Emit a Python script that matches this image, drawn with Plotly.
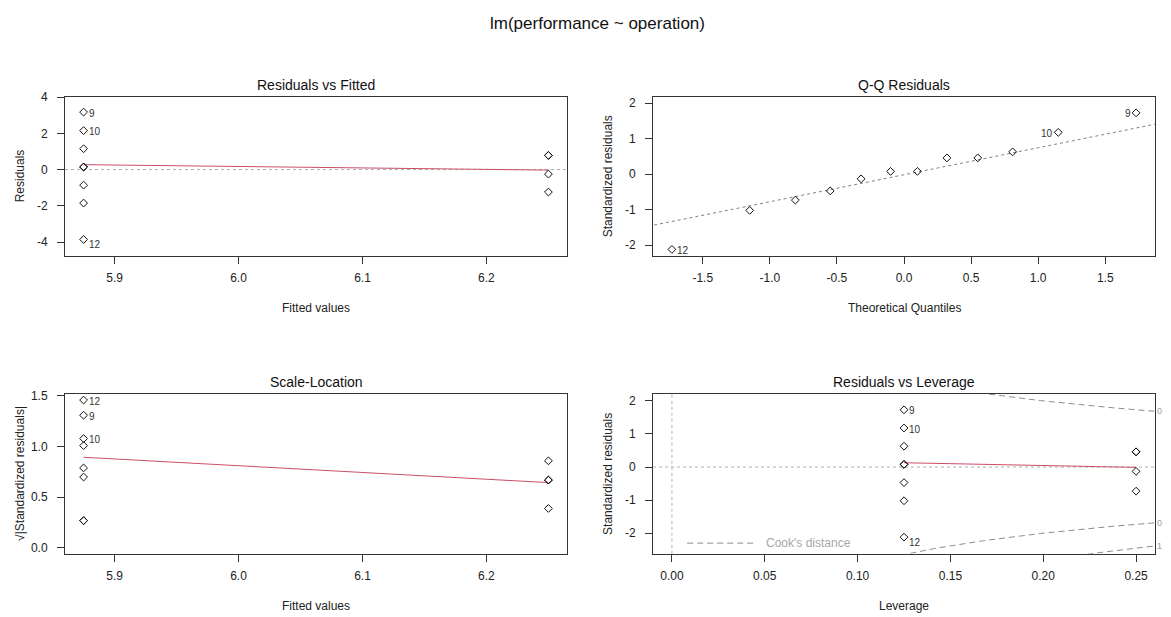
import numpy as np
import plotly.graph_objects as go

# page body has an 8px margin; work in screen pixels and convert
OFF = 8
SW, SH = 1171, 617
W, H = SW - OFF, SH - OFF

# ---------------- data ----------------
obs_id = [1, 2, 3, 4, 5, 6, 7, 8, 9, 10, 11, 12]
fitted = [6.25, 6.25, 6.25, 6.25, 5.875, 5.875, 5.875, 5.875, 5.875, 5.875, 5.875, 5.875]
residuals = [0.78, 0.78, -0.25, -1.24, 1.15, 0.14, 0.14, -0.86, 3.17, 2.15, -1.85, -3.86]
std_residuals = [0.46, 0.46, -0.13, -0.73, 0.63, 0.08, 0.08, -0.47, 1.73, 1.18, -1.02, -2.12]
sqrt_abs_std_res = [0.67, 0.67, 0.39, 0.86, 0.79, 0.27, 0.27, 0.70, 1.31, 1.08, 1.01, 1.46]
leverage = [0.25, 0.25, 0.25, 0.25, 0.125, 0.125, 0.125, 0.125, 0.125, 0.125, 0.125, 0.125]
theoretical_q = [0.32, 0.55, -0.32, -0.81, 0.81, -0.10, 0.10, -0.55, 1.73, 1.15, -1.15, -1.73]

labelled_ids = [9, 10, 12]

smooth_rvf_x = [5.875, 6.25]
smooth_rvf_y = [0.27, -0.03]
qq_line_x = [-1.95, 1.95]
qq_line_y = [-1.50, 1.47]
smooth_sl_x = [5.875, 6.25]
smooth_sl_y = [0.895, 0.645]
smooth_lev_x = [0.125, 0.25]
smooth_lev_y = [0.13, -0.01]
cook_levels = [0.5, 1.0]
n_params = 2

# ---------------- layout geometry (screen px -> paper) ----------------
def px_x(a, b):
    return [(a - OFF) / W, (b - OFF) / W]

def px_y(top, bottom):
    return [1 - (bottom - OFF) / H, 1 - (top - OFF) / H]

def sx(v):
    return (v - OFF) / W

def sy(v):
    return 1 - (v - OFF) / H

FONT = "Liberation Sans, Arial, sans-serif"
TXT = "#222222"
RED = "#CC4D67"

panels = {
    1: dict(box=(65, 567, 91, 252), xr=[5.86, 6.265], yr=[-4.76, 4.01],
            xt=[5.9, 6.0, 6.1, 6.2], xtt=["5.9", "6.0", "6.1", "6.2"],
            yt=[-4, -2, 0, 2, 4], ytt=["-4", "-2", "0", "2", "4"],
            title="Residuals vs Fitted", xl="Fitted values", yl="Residuals"),
    2: dict(box=(653, 1155, 91, 252), xr=[-1.871, 1.871], yr=[-2.30, 2.18],
            xt=[-1.5, -1.0, -0.5, 0.0, 0.5, 1.0, 1.5],
            xtt=["-1.5", "-1.0", "-0.5", "0.0", "0.5", "1.0", "1.5"],
            yt=[-2, -1, 0, 1, 2], ytt=["-2", "-1", "0", "1", "2"],
            title="Q-Q Residuals", xl="Theoretical Quantiles", yl="Standardized residuals"),
    3: dict(box=(65, 567, 392, 554), xr=[5.86, 6.265], yr=[-0.058, 1.52],
            xt=[5.9, 6.0, 6.1, 6.2], xtt=["5.9", "6.0", "6.1", "6.2"],
            yt=[0.0, 0.5, 1.0, 1.5], ytt=["0.0", "0.5", "1.0", "1.5"],
            title="Scale-Location", xl="Fitted values", yl="√|Standardized residuals|"),
    4: dict(box=(653, 1155, 392, 554), xr=[-0.0102, 0.2602], yr=[-2.624, 2.21],
            xt=[0.0, 0.05, 0.10, 0.15, 0.20, 0.25],
            xtt=["0.00", "0.05", "0.10", "0.15", "0.20", "0.25"],
            yt=[-2, -1, 0, 1, 2], ytt=["-2", "-1", "0", "1", "2"],
            title="Residuals vs Leverage", xl="Leverage", yl="Standardized residuals"),
}

fig = go.Figure()
layout = dict(width=W, height=H, margin=dict(l=0, r=0, t=0, b=0),
              paper_bgcolor="white", plot_bgcolor="white", showlegend=False,
              font=dict(family=FONT, color=TXT, size=12))
annotations = []

for k, p in panels.items():
    sfx = "" if k == 1 else str(k)
    L, R, T, B = p["box"]
    common = dict(showgrid=False, zeroline=False, showline=True, linecolor="#333333",
                  linewidth=1, mirror=True, ticks="outside", ticklen=7, tickwidth=1,
                  tickcolor="#333333", tickfont=dict(family=FONT, size=12, color=TXT),
                  fixedrange=True)
    layout["xaxis" + sfx] = dict(domain=px_x(L, R), anchor="y" + sfx, range=p["xr"],
                                 tickmode="array", tickvals=p["xt"], ticktext=p["xtt"],
                                 ticklabelstandoff=4, **common)
    layout["yaxis" + sfx] = dict(domain=px_y(T, B), anchor="x" + sfx, range=p["yr"],
                                 tickmode="array", tickvals=p["yt"], ticktext=p["ytt"],
                                 ticklabelstandoff=7, **common)
    xc = (L + R) / 2
    annotations.append(dict(text=p["title"], xref="paper", yref="paper", x=sx(xc),
                            y=sy(T - 12), xanchor="center", yanchor="middle",
                            showarrow=False, font=dict(family=FONT, size=14, color="#111111")))
    annotations.append(dict(text=p["xl"], xref="paper", yref="paper", x=sx(xc),
                            y=sy(B + 53), xanchor="center", yanchor="middle",
                            showarrow=False, font=dict(family=FONT, size=12, color=TXT)))
    annotations.append(dict(text=p["yl"], xref="paper", yref="paper",
                            x=sx(L - 45), y=sy((T + B) / 2),
                            xanchor="center", yanchor="middle", textangle=-90,
                            showarrow=False, font=dict(family=FONT, size=12, color=TXT)))

def ax(k):
    return ("x" if k == 1 else "x" + str(k)), ("y" if k == 1 else "y" + str(k))

marker = dict(symbol="diamond-open", size=6, color="#111111", line=dict(width=1, color="#111111"))

# zero / reference lines
for k in (1, 4):
    xa, ya = ax(k)
    fig.add_trace(go.Scatter(x=panels[k]["xr"], y=[0, 0], mode="lines", xaxis=xa, yaxis=ya,
                             line=dict(color="#b0b0b0", width=1, dash="dot"), hoverinfo="skip"))
xa, ya = ax(4)
fig.add_trace(go.Scatter(x=[0, 0], y=panels[4]["yr"], mode="lines", xaxis=xa, yaxis=ya,
                         line=dict(color="#b0b0b0", width=1, dash="dot"), hoverinfo="skip"))

# Q-Q reference line
xa, ya = ax(2)
fig.add_trace(go.Scatter(x=qq_line_x, y=qq_line_y, mode="lines", xaxis=xa, yaxis=ya,
                         line=dict(color="#808080", width=1, dash="dot"), hoverinfo="skip"))

# Cook's distance contours (Residuals vs Leverage panel)
xa, ya = ax(4)
hh = np.linspace(0.005, panels[4]["xr"][1], 200)
for lev in cook_levels:
    cl = np.sqrt(lev * n_params * (1 - hh) / hh)
    for sgn in (1, -1):
        fig.add_trace(go.Scatter(x=hh, y=sgn * cl, mode="lines", xaxis=xa, yaxis=ya,
                                 line=dict(color="#8c8c8c", width=1, dash="6px,4px"),
                                 hoverinfo="skip"))
    edge = np.sqrt(lev * n_params * (1 - panels[4]["xr"][1]) / panels[4]["xr"][1])
    for sgn in (1, -1):
        yv = sgn * edge
        if panels[4]["yr"][0] <= yv <= panels[4]["yr"][1]:
            annotations.append(dict(text=("%g" % lev), xref="x4", yref="y4",
                                    x=panels[4]["xr"][1], y=yv, xanchor="left",
                                    yanchor="middle", xshift=0, showarrow=False,
                                    font=dict(family=FONT, size=9, color="#a0a0a0")))

# Cook's distance legend
fig.add_trace(go.Scatter(x=[0.0082, 0.044], y=[-2.3, -2.3], mode="lines", xaxis=xa, yaxis=ya,
                         line=dict(color="#8c8c8c", width=1, dash="6px,4px"), hoverinfo="skip"))
annotations.append(dict(text="Cook's distance", xref="x4", yref="y4", x=0.0494, y=-2.3,
                        xanchor="left", yanchor="middle", showarrow=False,
                        font=dict(family=FONT, size=12, color="#a8a8a8")))

# smoother lines
for k, sxv, syv in [(1, smooth_rvf_x, smooth_rvf_y), (3, smooth_sl_x, smooth_sl_y),
                    (4, smooth_lev_x, smooth_lev_y)]:
    xa, ya = ax(k)
    fig.add_trace(go.Scatter(x=sxv, y=syv, mode="lines", xaxis=xa, yaxis=ya,
                             line=dict(color=RED, width=1), hoverinfo="skip"))

# points
point_sets = {1: (fitted, residuals), 2: (theoretical_q, std_residuals),
              3: (fitted, sqrt_abs_std_res), 4: (leverage, std_residuals)}
for k, (xs, ys) in point_sets.items():
    xa, ya = ax(k)
    fig.add_trace(go.Scatter(x=xs, y=ys, mode="markers", xaxis=xa, yaxis=ya,
                             marker=marker, cliponaxis=False, text=[str(i) for i in obs_id],
                             hoverinfo="text"))
    mid = (min(xs) + max(xs)) / 2
    for i, x, y in zip(obs_id, xs, ys):
        if i not in labelled_ids:
            continue
        right = x <= mid
        low = (i == 12 and k in (1, 4))
        annotations.append(dict(text=str(i), xref=xa, yref=ya, x=x, y=y,
                                xanchor="left" if right else "right", yanchor="middle",
                                xshift=3 if right else -3, yshift=-5 if low else -1,
                                showarrow=False,
                                font=dict(family=FONT, size=10, color="#333333")))

annotations.append(dict(text="lm(performance ~ operation)", xref="paper", yref="paper",
                        x=sx(597), y=sy(17), xanchor="center", yanchor="middle",
                        showarrow=False, font=dict(family=FONT, size=17, color="#111111")))

layout["annotations"] = annotations
fig.update_layout(**layout)
fig.write_html("out.html")
